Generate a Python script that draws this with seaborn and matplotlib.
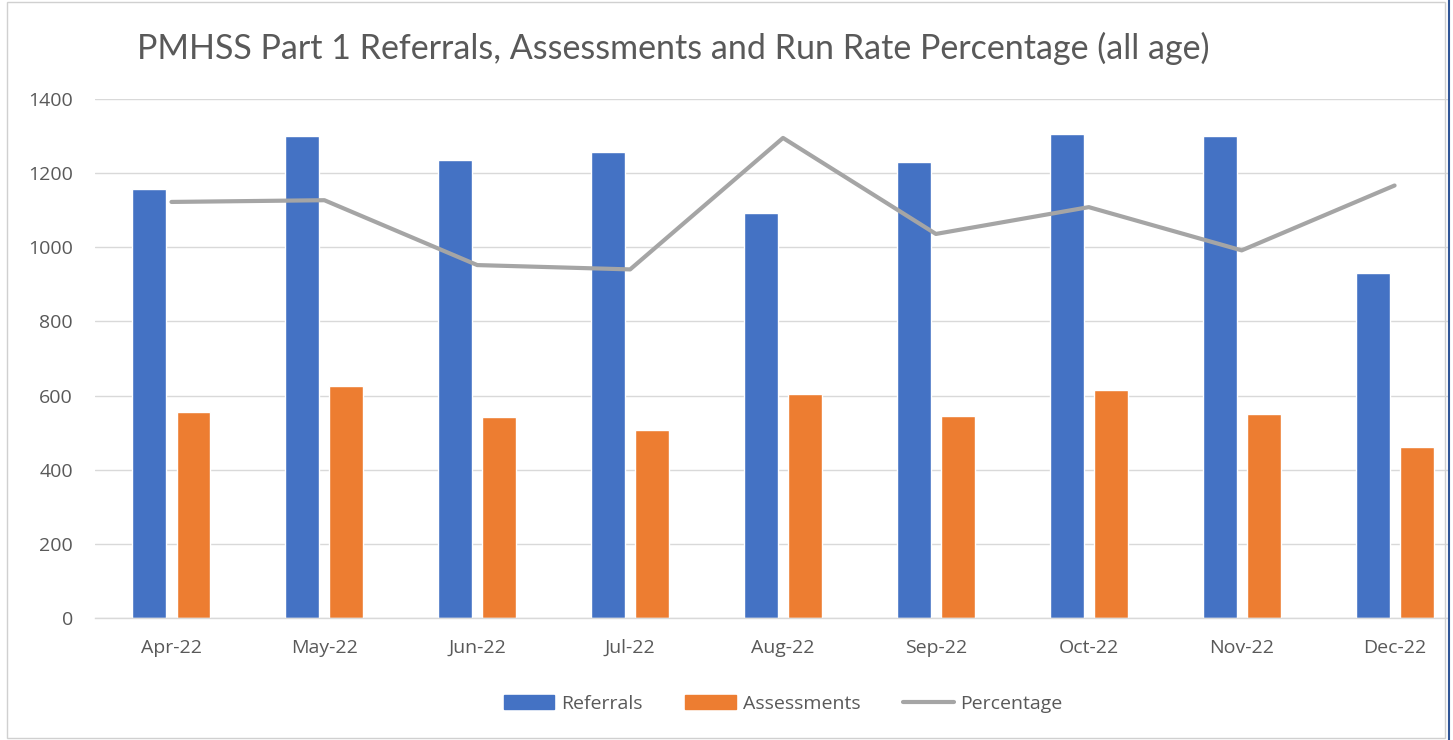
import matplotlib
matplotlib.use("Agg")
import matplotlib.pyplot as plt
import matplotlib.patches as mpatches
import numpy as np
import pandas as pd
import seaborn as sns

# data
months = ["Apr-22", "May-22", "Jun-22", "Jul-22", "Aug-22", "Sep-22", "Oct-22", "Nov-22", "Dec-22"]
referrals = [1158, 1299, 1235, 1256, 1093, 1229, 1305, 1299, 931]
assessments = [555, 625, 543, 506, 603, 544, 614, 549, 462]
# run rate percentage (hidden secondary axis, 0-60%)
percentage = [48.1, 48.3, 40.8, 40.3, 55.5, 44.4, 47.5, 42.5, 50.0]

BLUE = "#4472C4"
ORANGE = "#ED7D31"
GREY = "#A5A5A5"
TEXT = "#595959"
GRID = "#D9D9D9"

sns.set_style("white")
plt.rcParams["font.family"] = ["Open Sans", "DejaVu Sans"]

df = pd.DataFrame({"month": months, "Referrals": referrals, "Assessments": assessments})
long_df = df.melt("month", var_name="series", value_name="count")

fig = plt.figure(figsize=(14.53, 7.40), dpi=100)
# plot area runs past the right edge, as in the cropped original
ax = fig.add_axes([0.0654, 0.1649, 0.947, 0.7013])

sns.barplot(data=long_df, x="month", y="count", hue="series",
            palette=[BLUE, ORANGE], width=0.576, gap=0.229,
            saturation=1, ax=ax, legend=False)

ax.set_ylim(0, 1400)
ax.set_xlim(-0.5, len(months) - 0.5)
ax.set_yticks(range(0, 1401, 200))
ax.yaxis.grid(True, color=GRID, linewidth=1)
ax.set_axisbelow(True)
for s in ["top", "right", "left"]:
    ax.spines[s].set_visible(False)
ax.spines["bottom"].set_color(GRID)
ax.spines["bottom"].set_linewidth(1)
ax.set_xlabel("")
ax.set_ylabel("")
ax.tick_params(axis="y", length=0, labelsize=14, labelcolor=TEXT, pad=16)
ax.tick_params(axis="x", which="major", length=0, labelsize=14, labelcolor=TEXT, pad=15)
ax.set_xticks(np.arange(-0.5, len(months), 1.0), minor=True)
ax.tick_params(axis="x", which="minor", length=6, color=GRID, width=1)

# percentage line on a hidden secondary axis
ax2 = ax.twinx()
sns.lineplot(x=np.arange(len(months)), y=percentage, color=GREY, linewidth=3.0, ax=ax2)
ax2.set_ylim(0, 60)
ax2.set_xlim(-0.5, len(months) - 0.5)
ax2.axis("off")

fig.text(0.0943, 0.935, "PMHSS Part 1 Referrals, Assessments and Run Rate Percentage (all age)",
         fontsize=24.5, color=TEXT, ha="left", va="center", family=["Lato", "DejaVu Sans"])

handles = [mpatches.Patch(color=BLUE, label="Referrals"),
           mpatches.Patch(color=ORANGE, label="Assessments"),
           plt.Line2D([], [], color=GREY, linewidth=3.0, label="Percentage")]
fig.legend(handles=handles, loc="center", bbox_to_anchor=(0.539, 0.049), ncol=3,
           frameon=False, fontsize=14, labelcolor=TEXT, handlelength=2.6,
           handleheight=0.7, handletextpad=0.35, columnspacing=2.2)

# chart frame: light border, dark edge on the right
fig.patches.append(mpatches.Rectangle((0.0048, 0.003), 0.99, 0.994, transform=fig.transFigure,
                                      fill=False, edgecolor="#D0D0D0", linewidth=1))
fig.patches.append(mpatches.Rectangle((0.9976, 0), 0.0024, 1, transform=fig.transFigure,
                                      facecolor="white", edgecolor="none", zorder=5))
fig.add_artist(plt.Line2D([0.9973, 0.9973], [0, 1], transform=fig.transFigure,
                          color="#2F5597", linewidth=1.5, zorder=6))

fig.savefig("out.png", dpi=100)
